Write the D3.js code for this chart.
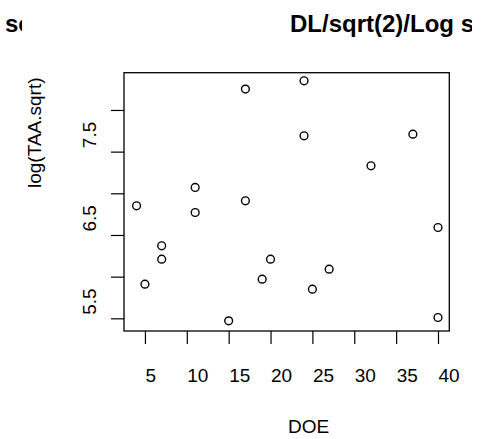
<!DOCTYPE html>
<html>
<head>
<meta charset="utf-8">
<script src="https://cdn.jsdelivr.net/npm/d3@7"></script>
<style>
  body { margin: 0; background: #fff; }
  svg { display: block; font-family: "Liberation Sans", Arial, sans-serif; }
</style>
</head>
<body>
<svg id="chart" width="487" height="439"></svg>
<script>
// values
var doe = [4, 5, 7, 7, 11, 11, 17, 17, 15, 19, 20, 24, 24, 37, 32, 40, 27, 25, 40];
var taa = [6.85, 5.91, 6.37, 6.21, 7.07, 6.77, 8.25, 6.91, 5.47, 5.97, 6.21, 8.35, 7.69, 7.71, 7.33, 6.59, 6.09, 5.85, 5.51];

var xTicks = [5, 10, 15, 20, 25, 30, 35, 40];
var yTicks = [5.5, 6, 6.5, 7, 7.5, 8];
var yTickLabels = ["5.5", "", "6.5", "", "7.5", ""];

var mainTitle = "DL/sqrt(2)/Log s";
var sideTitle = "sc";
var xLabel = "DOE";
var yLabel = "log(TAA.sqrt)";

var box = {left: 124, right: 449.3, top: 72.7, bottom: 331};

var svg = d3.select("#chart");

var x = d3.scaleLinear().domain([2.5, 41.35]).range([box.left, box.right]);
var y = d3.scaleLinear().domain([5.348, 8.447]).range([box.bottom, box.top]);

// the titles run past the panel edge and are cut there
var defs = svg.append("defs");
defs.append("clipPath").attr("id", "clipMain")
	.append("rect").attr("x", 0).attr("y", 0).attr("width", 472).attr("height", 60);
defs.append("clipPath").attr("id", "clipSide")
	.append("rect").attr("x", 0).attr("y", 0).attr("width", 22).attr("height", 60);

svg.append("text")
	.attr("clip-path", "url(#clipMain)")
	.attr("x", 290).attr("y", 31.7)
	.attr("font-size", 24).attr("font-weight", "bold")
	.text(mainTitle);

svg.append("text")
	.attr("clip-path", "url(#clipSide)")
	.attr("x", 5).attr("y", 31.7)
	.attr("font-size", 24).attr("font-weight", "bold")
	.text(sideTitle);

// x axis
var xAxis = svg.append("g")
	.attr("transform", "translate(0," + box.bottom + ")")
	.call(d3.axisBottom(x).tickValues(xTicks).tickSize(13).tickSizeOuter(0));
xAxis.select(".domain").remove();
xAxis.selectAll("line").attr("stroke", "#000").attr("stroke-width", 1.2);
xAxis.selectAll("text")
	.attr("y", 50.5).attr("dy", null)
	.attr("text-anchor", "start")
	.attr("font-size", 19).attr("fill", "#000")
	.attr("font-family", "Liberation Sans, Arial, sans-serif");

// y axis
var yAxis = svg.append("g")
	.attr("transform", "translate(" + box.left + ",0)")
	.call(d3.axisLeft(y).tickValues(yTicks).tickSize(13).tickSizeOuter(0)
		.tickFormat(function(d, i){ return yTickLabels[i]; }));
yAxis.select(".domain").remove();
yAxis.selectAll("line").attr("stroke", "#000").attr("stroke-width", 1.2);
yAxis.selectAll("text")
	.attr("x", null).attr("dy", null)
	.attr("transform", "translate(-28.5,-4) rotate(-90)")
	.attr("text-anchor", "start")
	.attr("font-size", 19).attr("fill", "#000")
	.attr("font-family", "Liberation Sans, Arial, sans-serif");

// plot box
svg.append("rect")
	.attr("x", box.left).attr("y", box.top)
	.attr("width", box.right - box.left).attr("height", box.bottom - box.top)
	.attr("fill", "none").attr("stroke", "#000").attr("stroke-width", 1.3);

// points
svg.append("g").selectAll("circle")
	.data(doe)
	.enter()
	.append("circle")
	.attr("cx", function(d){ return x(d); })
	.attr("cy", function(d, i){ return y(taa[i]); })
	.attr("r", 3.9)
	.attr("fill", "none")
	.attr("stroke", "#000")
	.attr("stroke-width", 1.4);

// axis titles
svg.append("text")
	.attr("x", 288).attr("y", 433)
	.attr("font-size", 19)
	.text(xLabel);

svg.append("text")
	.attr("transform", "translate(41,188) rotate(-90)")
	.attr("font-size", 19)
	.text(yLabel);
</script>
</body>
</html>
